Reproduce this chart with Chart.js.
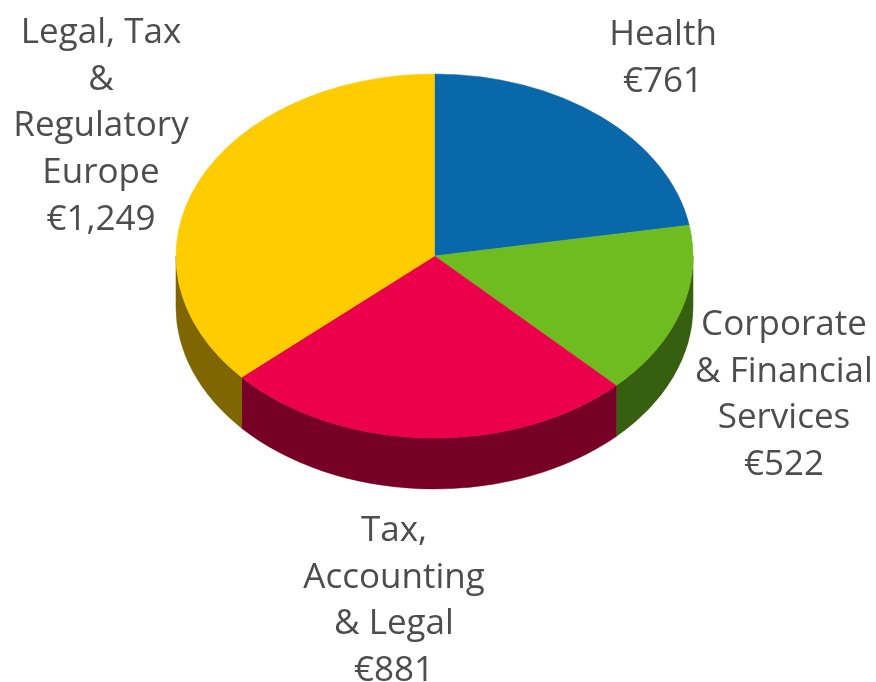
<!DOCTYPE html>
<html>
<head>
<meta charset="utf-8">
<script src="https://cdn.jsdelivr.net/npm/chart.js@4"></script>
<style>
  html, body { margin: 0; padding: 0; background: #ffffff; }
  #wrap { width: 876px; height: 682px; }
</style>
</head>
<body>
<div id="wrap"><canvas id="pie" width="876" height="682"></canvas></div>
<script>
// --- DATA ---
const categories = ['Health', 'Corporate & Financial Services', 'Tax, Accounting & Legal', 'Legal, Tax & Regulatory Europe'];
const values = [761, 522, 881, 1249];
const labelLines = [
    ['Health'],
    ['Corporate', '& Financial', 'Services'],
    ['Tax,', 'Accounting', '& Legal'],
    ['Legal, Tax', '&', 'Regulatory', 'Europe']
];

// --- STYLE ---
const topColors = ['#0868aa', '#6ebc20', '#ec004b', '#ffcc00'];
const sideColors = ['#04345a', '#375f10', '#760026', '#7f6600'];
const textColor = '#4d4d4d';
const fontFamily = '"Open Sans", "DejaVu Sans", sans-serif';
const fontSize = 35;
const lineGap = 46.7;

// where the tilted pie sits on the page (screen px)
const ellipse = { cx: 434.5, cy: 256, rx: 258.5, ry: 182, depth: 51 };
// label anchors: centre x and first baseline y
const labelAnchors = [
    { x: 663, y: 45 },
    { x: 784, y: 335 },
    { x: 394, y: 541 },
    { x: 101, y: 43 }
];

function fmt(v) {
    return '\u20ac' + v.toLocaleString('en-US');
}

// --- 3D PIE PLUGIN ---
function tilt(ctx, el) {
    const sx = ellipse.rx / el.outerRadius;
    const sy = ellipse.ry / el.outerRadius;
    ctx.translate(ellipse.cx, ellipse.cy);
    ctx.scale(sx, sy);
    ctx.translate(-el.x, -el.y);
    return ellipse.depth / sy;
}

const pie3d = {
    id: 'pie3d',
    beforeDatasetsDraw(chart) {
        const ctx = chart.ctx;
        const arcs = chart.getDatasetMeta(0).data;
        ctx.save();
        const d = tilt(ctx, arcs[0]);
        // front walls: only the lower half of the rim is visible
        arcs.forEach((el, i) => {
            const p = el.getProps(['x', 'y', 'startAngle', 'endAngle', 'outerRadius']);
            const a0 = Math.max(p.startAngle, 0);
            const a1 = Math.min(p.endAngle, Math.PI);
            if (a1 <= a0) return;
            ctx.beginPath();
            ctx.arc(p.x, p.y, p.outerRadius, a0, a1);
            ctx.arc(p.x, p.y + d, p.outerRadius, a1, a0, true);
            ctx.closePath();
            ctx.fillStyle = sideColors[i];
            ctx.fill();
            ctx.strokeStyle = sideColors[i];
            ctx.lineWidth = 0.6;
            ctx.stroke();
        });
    },
    afterDatasetsDraw(chart) {
        chart.ctx.restore();
    },
    afterDraw(chart) {
        const ctx = chart.ctx;
        ctx.save();
        ctx.fillStyle = textColor;
        ctx.font = fontSize + 'px ' + fontFamily;
        ctx.textAlign = 'center';
        ctx.textBaseline = 'alphabetic';
        labelLines.forEach((lines, i) => {
            const a = labelAnchors[i];
            const all = lines.concat([fmt(values[i])]);
            all.forEach((t, j) => ctx.fillText(t, a.x, a.y + j * lineGap));
        });
        ctx.restore();
    }
};

new Chart(document.getElementById('pie'), {
    type: 'pie',
    data: {
        labels: categories,
        datasets: [{
            data: values,
            backgroundColor: topColors,
            borderColor: topColors,
            borderWidth: 0.6,
            hoverOffset: 0,
            clip: false
        }]
    },
    options: {
        responsive: false,
        animation: false,
        devicePixelRatio: 1,
        events: [],
        layout: { padding: { left: 176, right: 183, top: 82, bottom: 83 } },
        plugins: {
            legend: { display: false },
            tooltip: { enabled: false }
        }
    },
    plugins: [pie3d]
});
</script>
</body>
</html>
